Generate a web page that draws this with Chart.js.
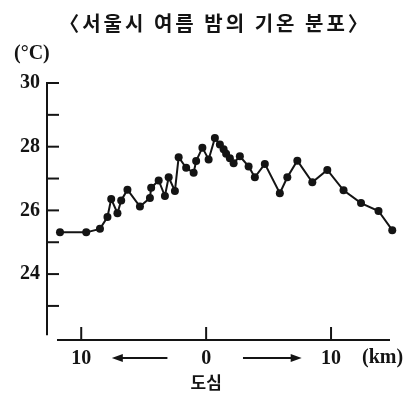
<!DOCTYPE html>
<html>
<head>
<meta charset="utf-8">
<script src="https://cdn.jsdelivr.net/npm/chart.js@4/dist/chart.umd.min.js"></script>
<style>
  body { margin: 0; background: #fff; overflow: hidden; }
  canvas { display: block; }
</style>
</head>
<body>
<canvas id="grafico" width="411" height="397"></canvas>
<script>
// 도심으로부터의 거리(km, 왼쪽은 음수)와 기온(°C)
const distanceKm = [-11.7, -9.6, -8.5, -7.9, -7.6, -7.1, -6.8, -6.3, -5.3, -4.5,
  -4.4, -3.8, -3.3, -3.0, -2.5, -2.2, -1.6, -1.0, -0.8, -0.3,
  0.2, 0.7, 1.1, 1.4, 1.6, 1.9, 2.2, 2.7, 3.4, 3.9,
  4.7, 5.9, 6.5, 7.3, 8.5, 9.7, 11.0, 12.4, 13.8, 14.9];
const temperature = [25.31, 25.31, 25.42, 25.79, 26.36, 25.91, 26.31, 26.65, 26.12, 26.39,
  26.71, 26.94, 26.45, 27.04, 26.61, 27.67, 27.34, 27.18, 27.55, 27.97,
  27.6, 28.27, 28.07, 27.92, 27.78, 27.64, 27.48, 27.7, 27.38, 27.04,
  27.46, 26.54, 27.04, 27.56, 26.88, 27.27, 26.63, 26.23, 25.98, 25.38];

// 눈금
const yTickValues = [24, 26, 28, 30];
const yTickLabels = ['24', '26', '28', '30'];
const yMinorTicks = [23, 25, 27, 29];
const xTickValues = [-10, 0, 10];
const xTickLabels = ['10', '0', '10'];

const titulo = '〈서울시 여름 밤의 기온 분포〉';
const unidadY = '(°C)';
const unidadX = '(km)';
const centroLabel = '도심';

const ink = '#141414';
const serif = "'Liberation Serif', 'Times New Roman', serif";
const kr = "'Noto Sans CJK KR', sans-serif";

// 축선, 눈금, 화살표, 글자
const ejesPlugin = {
  id: 'ejes',
  afterDraw(chart) {
    const ctx = chart.ctx;
    const x = chart.scales.x;
    const y = chart.scales.y;
    const axisX = x.getPixelForValue(x.min);
    const axisY = y.getPixelForValue(y.min);

    ctx.save();
    ctx.strokeStyle = ink;
    ctx.fillStyle = ink;
    ctx.lineWidth = 2;

    // 세로축
    ctx.beginPath();
    ctx.moveTo(axisX, y.getPixelForValue(30));
    ctx.lineTo(axisX, y.getPixelForValue(22.08));
    ctx.stroke();
    [...yTickValues, ...yMinorTicks].forEach(v => {
      const py = y.getPixelForValue(v);
      ctx.beginPath();
      ctx.moveTo(axisX - 1, py);
      ctx.lineTo(axisX + 12, py);
      ctx.stroke();
    });

    // 가로축
    ctx.beginPath();
    ctx.moveTo(x.getPixelForValue(-11.94), axisY);
    ctx.lineTo(x.right, axisY);
    ctx.stroke();
    xTickValues.forEach(v => {
      const px = x.getPixelForValue(v);
      ctx.beginPath();
      ctx.moveTo(px, axisY);
      ctx.lineTo(px, axisY - 13);
      ctx.stroke();
    });

    // 화살표
    const arrowY = 358;
    const flecha = (from, to) => {
      const a = x.getPixelForValue(from);
      const b = x.getPixelForValue(to);
      const dir = Math.sign(b - a);
      ctx.lineWidth = 1.8;
      ctx.beginPath();
      ctx.moveTo(a, arrowY);
      ctx.lineTo(b - dir * 6, arrowY);
      ctx.stroke();
      ctx.beginPath();
      ctx.moveTo(b, arrowY);
      ctx.lineTo(b - dir * 11, arrowY - 4);
      ctx.lineTo(b - dir * 11, arrowY + 4);
      ctx.closePath();
      ctx.fill();
    };
    flecha(-3.1, -7.55);
    flecha(2.95, 7.65);

    // 글자
    ctx.textBaseline = 'middle';
    ctx.textAlign = 'center';
    ctx.font = "bold 20px " + kr;
    ctx.letterSpacing = '3px';
    ctx.fillText(titulo, 215, 23);
    ctx.letterSpacing = '0px';
    ctx.font = "bold 17px " + kr;
    ctx.fillText(centroLabel, x.getPixelForValue(0), 383);
    ctx.textAlign = 'left';
    ctx.font = "bold 20px " + serif;
    ctx.fillText(unidadY, 14, 54);
    ctx.fillText(unidadX, 362, 358);
    ctx.restore();
  }
};

const ctx = document.getElementById('grafico').getContext('2d');
new Chart(ctx, {
  type: 'line',
  data: {
    datasets: [{
      data: distanceKm.map((d, i) => ({ x: d, y: temperature[i] })),
      borderColor: ink,
      borderWidth: 2,
      backgroundColor: ink,
      pointBackgroundColor: ink,
      pointBorderWidth: 0,
      pointRadius: 4,
      tension: 0,
      clip: false
    }]
  },
  options: {
    responsive: false,
    devicePixelRatio: 1,
    animation: false,
    layout: { padding: { top: 83, right: 21, left: 0, bottom: 0 } },
    plugins: {
      legend: { display: false },
      title: { display: false },
      tooltip: { enabled: false }
    },
    scales: {
      x: {
        type: 'linear',
        min: -12.74,
        max: 14.72,
        grid: { display: false, drawTicks: false },
        border: { display: false },
        afterBuildTicks: s => { s.ticks = xTickValues.map(v => ({ value: v })); },
        afterFit: s => { s.height = 57; },
        ticks: {
          padding: 7,
          color: ink,
          font: { family: serif, size: 20, weight: 'bold' },
          callback: (v) => xTickLabels[xTickValues.indexOf(v)]
        }
      },
      y: {
        type: 'linear',
        min: 21.93,
        max: 30,
        grid: { display: false, drawTicks: false },
        border: { display: false },
        afterBuildTicks: s => { s.ticks = yTickValues.map(v => ({ value: v })); },
        afterFit: s => { s.width = 47; },
        ticks: {
          padding: 7,
          color: ink,
          font: { family: serif, size: 20, weight: 'bold' },
          callback: (v) => yTickLabels[yTickValues.indexOf(v)]
        }
      }
    }
  },
  plugins: [ejesPlugin]
});
</script>
</body>
</html>
